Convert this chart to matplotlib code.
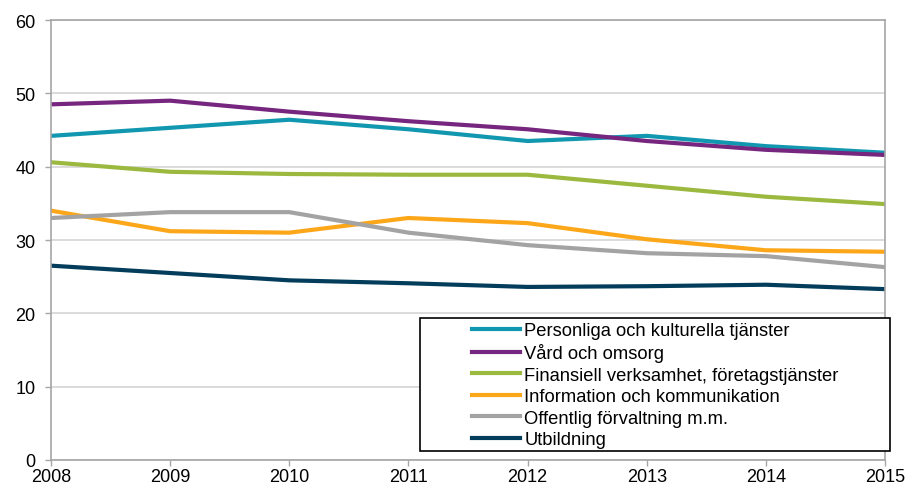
import matplotlib.pyplot as plt
from matplotlib.patches import Rectangle

plt.rcParams['font.family'] = ['Liberation Sans', 'DejaVu Sans']

years = [2008, 2009, 2010, 2011, 2012, 2013, 2014, 2015]
personliga = [44.2, 45.3, 46.4, 45.1, 43.5, 44.2, 42.8, 41.9]
vard = [48.5, 49.0, 47.5, 46.2, 45.1, 43.5, 42.3, 41.6]
finansiell = [40.6, 39.3, 39.0, 38.9, 38.9, 37.4, 35.9, 34.9]
information = [34.0, 31.2, 31.0, 33.0, 32.3, 30.1, 28.6, 28.4]
offentlig = [33.0, 33.8, 33.8, 31.0, 29.3, 28.2, 27.8, 26.3]
utbildning = [26.5, 25.5, 24.5, 24.1, 23.6, 23.7, 23.9, 23.3]

series = [
    ("Personliga och kulturella tjänster", personliga, "#1297b0"),
    ("Vård och omsorg", vard, "#76267e"),
    ("Finansiell verksamhet, företagstjänster", finansiell, "#9cb93f"),
    ("Information och kommunikation", information, "#fca71a"),
    ("Offentlig förvaltning m.m.", offentlig, "#a3a3a3"),
    ("Utbildning", utbildning, "#033d5b"),
]

W, H = 907, 489
fig = plt.figure(figsize=(W / 100, H / 100), dpi=100)
ax = fig.add_axes([51 / W, 28 / H, 834 / W, 440 / H])

for label, vals, color in series:
    ax.plot(years, vals, color=color, lw=3.0, label=label, solid_joinstyle='round')

ax.set_xlim(2008, 2015)
ax.set_ylim(0, 60)
ax.set_yticks(range(0, 61, 10))
ax.set_xticks(years)
ax.grid(axis='y', color='#d4d4d4', lw=1.2)
ax.set_axisbelow(True)
for s in ['left', 'right', 'bottom', 'top']:
    ax.spines[s].set_color('#a6a6a6')
    ax.spines[s].set_linewidth(1.2)
ax.tick_params(axis='both', colors='#a6a6a6', labelcolor='black', labelsize=13, length=4, width=1)
ax.tick_params(axis='y', pad=7)
ax.tick_params(axis='x', pad=2)

# legend box like the Excel original
box = Rectangle((420 / W, 1 - 452 / H), 470 / W, 133 / H, transform=fig.transFigure,
                facecolor='white', edgecolor='black', lw=1.2, zorder=4, clip_on=False)
ax.add_patch(box)
leg = ax.legend(loc='upper left', bbox_to_anchor=(472 / W, 1 - 323 / H), bbox_transform=fig.transFigure,
                fontsize=13.2, frameon=False, borderpad=0, labelspacing=0.24, handlelength=2.6,
                handletextpad=0.25, borderaxespad=0)
leg.set_zorder(6)

fig.savefig('out.png', dpi=100)
